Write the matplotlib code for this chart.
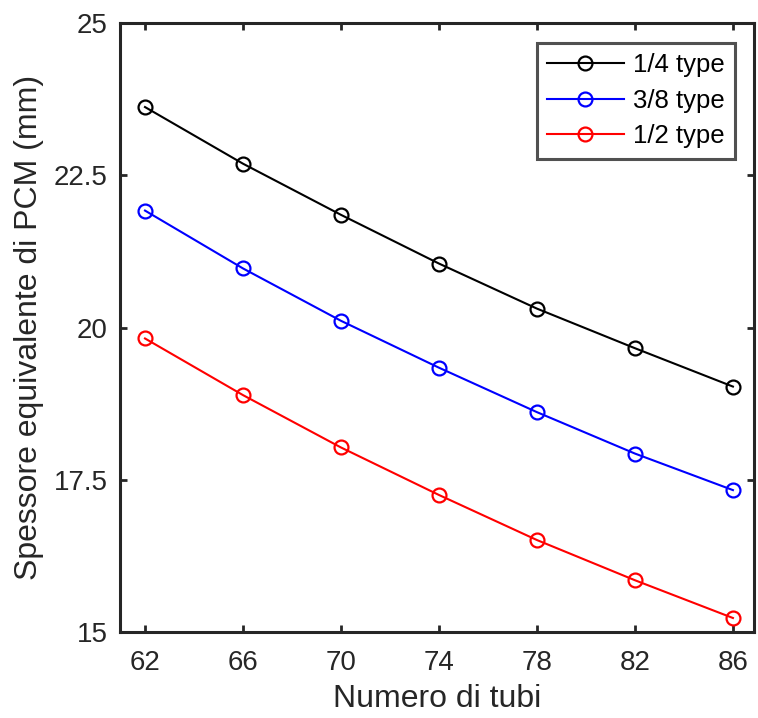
import matplotlib
matplotlib.use('Agg')
import matplotlib.pyplot as plt

plt.rcParams['font.family'] = ['Liberation Sans', 'DejaVu Sans']

tubi = [62, 66, 70, 74, 78, 82, 86]
tipo_14 = [23.62, 22.69, 21.85, 21.05, 20.31, 19.66, 19.03]
tipo_38 = [21.92, 20.97, 20.11, 19.34, 18.61, 17.93, 17.33]
tipo_12 = [19.82, 18.89, 18.03, 17.25, 16.51, 15.85, 15.23]

fig = plt.figure(figsize=(7.58, 7.18), dpi=100)
ax = fig.add_axes([120/758, 1 - 632/718, (754-120)/758, (632-23)/718])

ax.plot(tubi, tipo_14, '-o', color='black', lw=1.5, ms=10, mfc='none', mew=1.6, label='1/4 type')
ax.plot(tubi, tipo_38, '-o', color='blue', lw=1.5, ms=10, mfc='none', mew=1.6, label='3/8 type')
ax.plot(tubi, tipo_12, '-o', color='red', lw=1.5, ms=10, mfc='none', mew=1.6, label='1/2 type')

ax.set_xlim(60.98, 86.86)
ax.set_ylim(15, 25)
ax.set_xticks(tubi)
ax.set_yticks([15, 17.5, 20, 22.5, 25])
ax.set_yticklabels(['15', '17.5', '20', '22.5', '25'])

for s in ax.spines.values():
    s.set_linewidth(2.2)
    s.set_color('#262626')
ax.tick_params(direction='in', length=5, width=2, colors='#262626', labelsize=20,
               top=True, right=True)
ax.tick_params(axis='x', pad=13)
ax.tick_params(axis='y', pad=9)

ax.set_xlabel('Numero di tubi', fontsize=23, color='#262626', labelpad=6)
ax.set_ylabel('Spessore equivalente di PCM (mm)', fontsize=23, color='#262626', labelpad=7)

leg = ax.legend(loc='upper right', fontsize=18.5, frameon=True, fancybox=False,
                edgecolor='#262626', handlelength=3.0, handletextpad=0.35,
                borderpad=0.4, labelspacing=0.45, borderaxespad=0,
                bbox_to_anchor=((735-120)/634, (632-43)/609))
leg.get_frame().set_linewidth(2.2)

plt.savefig('out.png', dpi=100)
